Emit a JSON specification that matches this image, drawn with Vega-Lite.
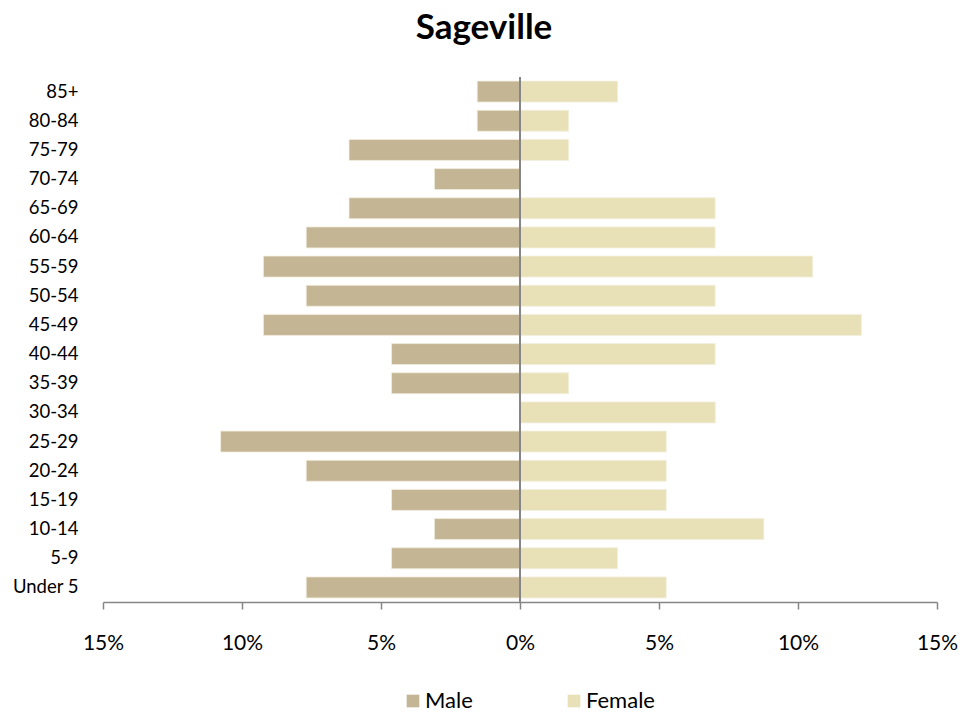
{
  "$schema": "https://vega.github.io/schema/vega-lite/v6.json",
  "width": 834,
  "height": 525,
  "autosize": {"type": "none"},
  "padding": {"left": 103, "top": 77, "right": 42, "bottom": 111},
  "background": "white",
  "title": {
    "text": "Sageville",
    "font": "Lato",
    "fontSize": 35,
    "fontWeight": "bold",
    "color": "#000000",
    "anchor": "middle",
    "dx": -36,
    "offset": 30
  },
  "config": {
    "view": {"stroke": null},
    "font": "Lato"
  },
  "data": {
    "values": [
      {"age": "85+", "sex": "Male", "value": -0.0154},
      {"age": "80-84", "sex": "Male", "value": -0.0154},
      {"age": "75-79", "sex": "Male", "value": -0.0615},
      {"age": "70-74", "sex": "Male", "value": -0.0308},
      {"age": "65-69", "sex": "Male", "value": -0.0615},
      {"age": "60-64", "sex": "Male", "value": -0.0769},
      {"age": "55-59", "sex": "Male", "value": -0.0923},
      {"age": "50-54", "sex": "Male", "value": -0.0769},
      {"age": "45-49", "sex": "Male", "value": -0.0923},
      {"age": "40-44", "sex": "Male", "value": -0.0462},
      {"age": "35-39", "sex": "Male", "value": -0.0462},
      {"age": "30-34", "sex": "Male", "value": 0},
      {"age": "25-29", "sex": "Male", "value": -0.1077},
      {"age": "20-24", "sex": "Male", "value": -0.0769},
      {"age": "15-19", "sex": "Male", "value": -0.0462},
      {"age": "10-14", "sex": "Male", "value": -0.0308},
      {"age": "5-9", "sex": "Male", "value": -0.0462},
      {"age": "Under 5", "sex": "Male", "value": -0.0769},
      {"age": "85+", "sex": "Female", "value": 0.0351},
      {"age": "80-84", "sex": "Female", "value": 0.0175},
      {"age": "75-79", "sex": "Female", "value": 0.0175},
      {"age": "70-74", "sex": "Female", "value": 0},
      {"age": "65-69", "sex": "Female", "value": 0.0702},
      {"age": "60-64", "sex": "Female", "value": 0.0702},
      {"age": "55-59", "sex": "Female", "value": 0.1053},
      {"age": "50-54", "sex": "Female", "value": 0.0702},
      {"age": "45-49", "sex": "Female", "value": 0.1228},
      {"age": "40-44", "sex": "Female", "value": 0.0702},
      {"age": "35-39", "sex": "Female", "value": 0.0175},
      {"age": "30-34", "sex": "Female", "value": 0.0702},
      {"age": "25-29", "sex": "Female", "value": 0.0526},
      {"age": "20-24", "sex": "Female", "value": 0.0526},
      {"age": "15-19", "sex": "Female", "value": 0.0526},
      {"age": "10-14", "sex": "Female", "value": 0.0877},
      {"age": "5-9", "sex": "Female", "value": 0.0351},
      {"age": "Under 5", "sex": "Female", "value": 0.0526}
    ]
  },
  "layer": [
    {
      "mark": {"type": "bar", "stroke": "#F3EFE0", "strokeWidth": 0.8},
      "encoding": {
        "y": {
          "field": "age",
          "type": "nominal",
          "sort": ["85+", "80-84", "75-79", "70-74", "65-69", "60-64", "55-59", "50-54", "45-49", "40-44", "35-39", "30-34", "25-29", "20-24", "15-19", "10-14", "5-9", "Under 5"],
          "scale": {"paddingInner": 0.28, "paddingOuter": 0.14},
          "axis": {
            "title": null,
            "domain": false,
            "ticks": false,
            "labelPadding": 25,
            "labelFont": "Lato",
            "labelFontSize": 18.5,
            "labelColor": "#000000"
          }
        },
        "x": {
          "field": "value",
          "type": "quantitative",
          "scale": {"domain": [-0.15, 0.15], "nice": false, "zero": false},
          "axis": {
            "title": null,
            "values": [-0.15, -0.1, -0.05, 0, 0.05, 0.1, 0.15],
            "labelExpr": "format(abs(datum.value), '.0%')",
            "labelFlush": false,
            "labelOverlap": false,
            "grid": false,
            "domainColor": "#868686",
            "domainWidth": 1.5,
            "tickColor": "#868686",
            "tickWidth": 1.5,
            "tickSize": 7,
            "labelPadding": 23,
            "labelFont": "Lato",
            "labelFontSize": 21,
            "labelColor": "#000000"
          }
        },
        "color": {
          "field": "sex",
          "type": "nominal",
          "scale": {"domain": ["Male", "Female"], "range": ["#C4B594", "#E8E1B7"]},
          "legend": {
            "title": null,
            "orient": "none",
            "direction": "horizontal",
            "legendX": 299,
            "legendY": 613,
            "symbolType": "square",
            "symbolSize": 160,
            "symbolStrokeWidth": 0,
            "labelFont": "Lato",
            "labelFontSize": 22,
            "labelColor": "#000000",
            "labelOffset": 1,
            "columnPadding": 90
          }
        }
      }
    },
    {
      "mark": {"type": "rule", "color": "#868686", "strokeWidth": 1.5},
      "encoding": {
        "x": {"datum": 0}
      }
    }
  ]
}
